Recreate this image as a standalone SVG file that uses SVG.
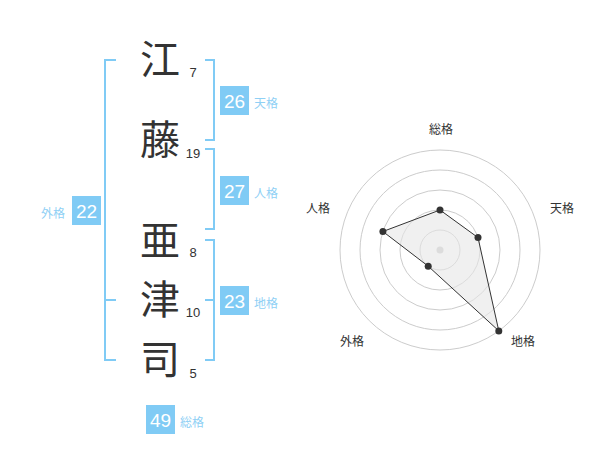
<svg xmlns="http://www.w3.org/2000/svg" width="600" height="470" viewBox="0 0 600 470">
<style>
.ch{font-family:"Noto Sans CJK JP","Noto Sans CJK SC",sans-serif;font-size:40px;fill:#333;text-anchor:middle}
.num{font-family:"Liberation Sans",Arial,sans-serif;font-size:13px;fill:#333;text-anchor:middle}
.br{fill:none;stroke:#80cbf5;stroke-width:2}
.box{fill:#80cbf5}
.bn{font-family:"Liberation Sans",Arial,sans-serif;font-size:19px;fill:#fff;text-anchor:middle}
.bl{font-family:"Noto Sans CJK JP",sans-serif;font-size:12px;fill:#8fd0f5}
.ring{fill:none;stroke:#cccccc;stroke-width:1}
.rl{font-family:"Noto Sans CJK JP",sans-serif;font-size:12px;fill:#333;text-anchor:middle}
.dot{fill:#333}
</style>
<rect width="600" height="470" fill="#fff"/>
<g id="connectors">
<path class="br" d="M116,60 H105 V360 H116 M105,300 H116"/>
<path class="br" d="M205,60 H214 V140 H205"/>
<path class="br" d="M205,149 H214 V229 H205"/>
<path class="br" d="M205,240 H214 V360 H205 M214,300 H205"/>
</g>
<g id="name">
<g id="c1"><text class="ch" x="160" y="74">江</text><text class="num" x="193" y="77">7</text></g>
<g id="c2"><text class="ch" x="160" y="154">藤</text><text class="num" x="193" y="158">19</text></g>
<g id="c3"><text class="ch" x="160" y="255">亜</text><text class="num" x="193" y="257">8</text></g>
<g id="c4"><text class="ch" x="160" y="314">津</text><text class="num" x="193" y="317">10</text></g>
<g id="c5"><text class="ch" x="160" y="374">司</text><text class="num" x="193" y="378">5</text></g>
</g>
<g id="tenkaku"><rect class="box" x="220" y="86" width="29" height="29"/><text class="bn" x="234.5" y="108">26</text><text class="bl" x="254" y="108">天格</text></g>
<g id="jinkaku"><rect class="box" x="220" y="176" width="29" height="29"/><text class="bn" x="234.5" y="198">27</text><text class="bl" x="254" y="198">人格</text></g>
<g id="chikaku"><rect class="box" x="220" y="286" width="29" height="29"/><text class="bn" x="234.5" y="308">23</text><text class="bl" x="254" y="308">地格</text></g>
<g id="gaikaku"><rect class="box" x="72" y="196" width="29" height="29"/><text class="bn" x="86.5" y="218">22</text><text class="bl" x="41" y="218">外格</text></g>
<g id="soukaku"><rect class="box" x="146" y="405" width="29" height="29"/><text class="bn" x="160.5" y="427">49</text><text class="bl" x="180" y="427">総格</text></g>
<g id="radar">
<circle class="ring" cx="440" cy="250" r="20"/>
<circle class="ring" cx="440" cy="250" r="40"/>
<circle class="ring" cx="440" cy="250" r="60"/>
<circle class="ring" cx="440" cy="250" r="80"/>
<circle class="ring" cx="440" cy="250" r="100"/>
<circle cx="440" cy="250" r="3.5" fill="#cccccc"/>
<polygon points="440,210 478,237.6 498.8,330.9 428.2,266.2 382.9,231.5" fill="#e6e6e6" fill-opacity="0.6" stroke="#333" stroke-width="1"/>
<circle class="dot" cx="440" cy="210" r="3.5"/>
<circle class="dot" cx="478" cy="237.6" r="3.5"/>
<circle class="dot" cx="498.8" cy="330.9" r="3.5"/>
<circle class="dot" cx="428.2" cy="266.2" r="3.5"/>
<circle class="dot" cx="382.9" cy="231.5" r="3.5"/>
<text class="rl" x="441" y="134">総格</text>
<text class="rl" x="562" y="213">天格</text>
<text class="rl" x="523" y="346">地格</text>
<text class="rl" x="352" y="346">外格</text>
<text class="rl" x="318" y="213">人格</text>
</g>
</svg>
